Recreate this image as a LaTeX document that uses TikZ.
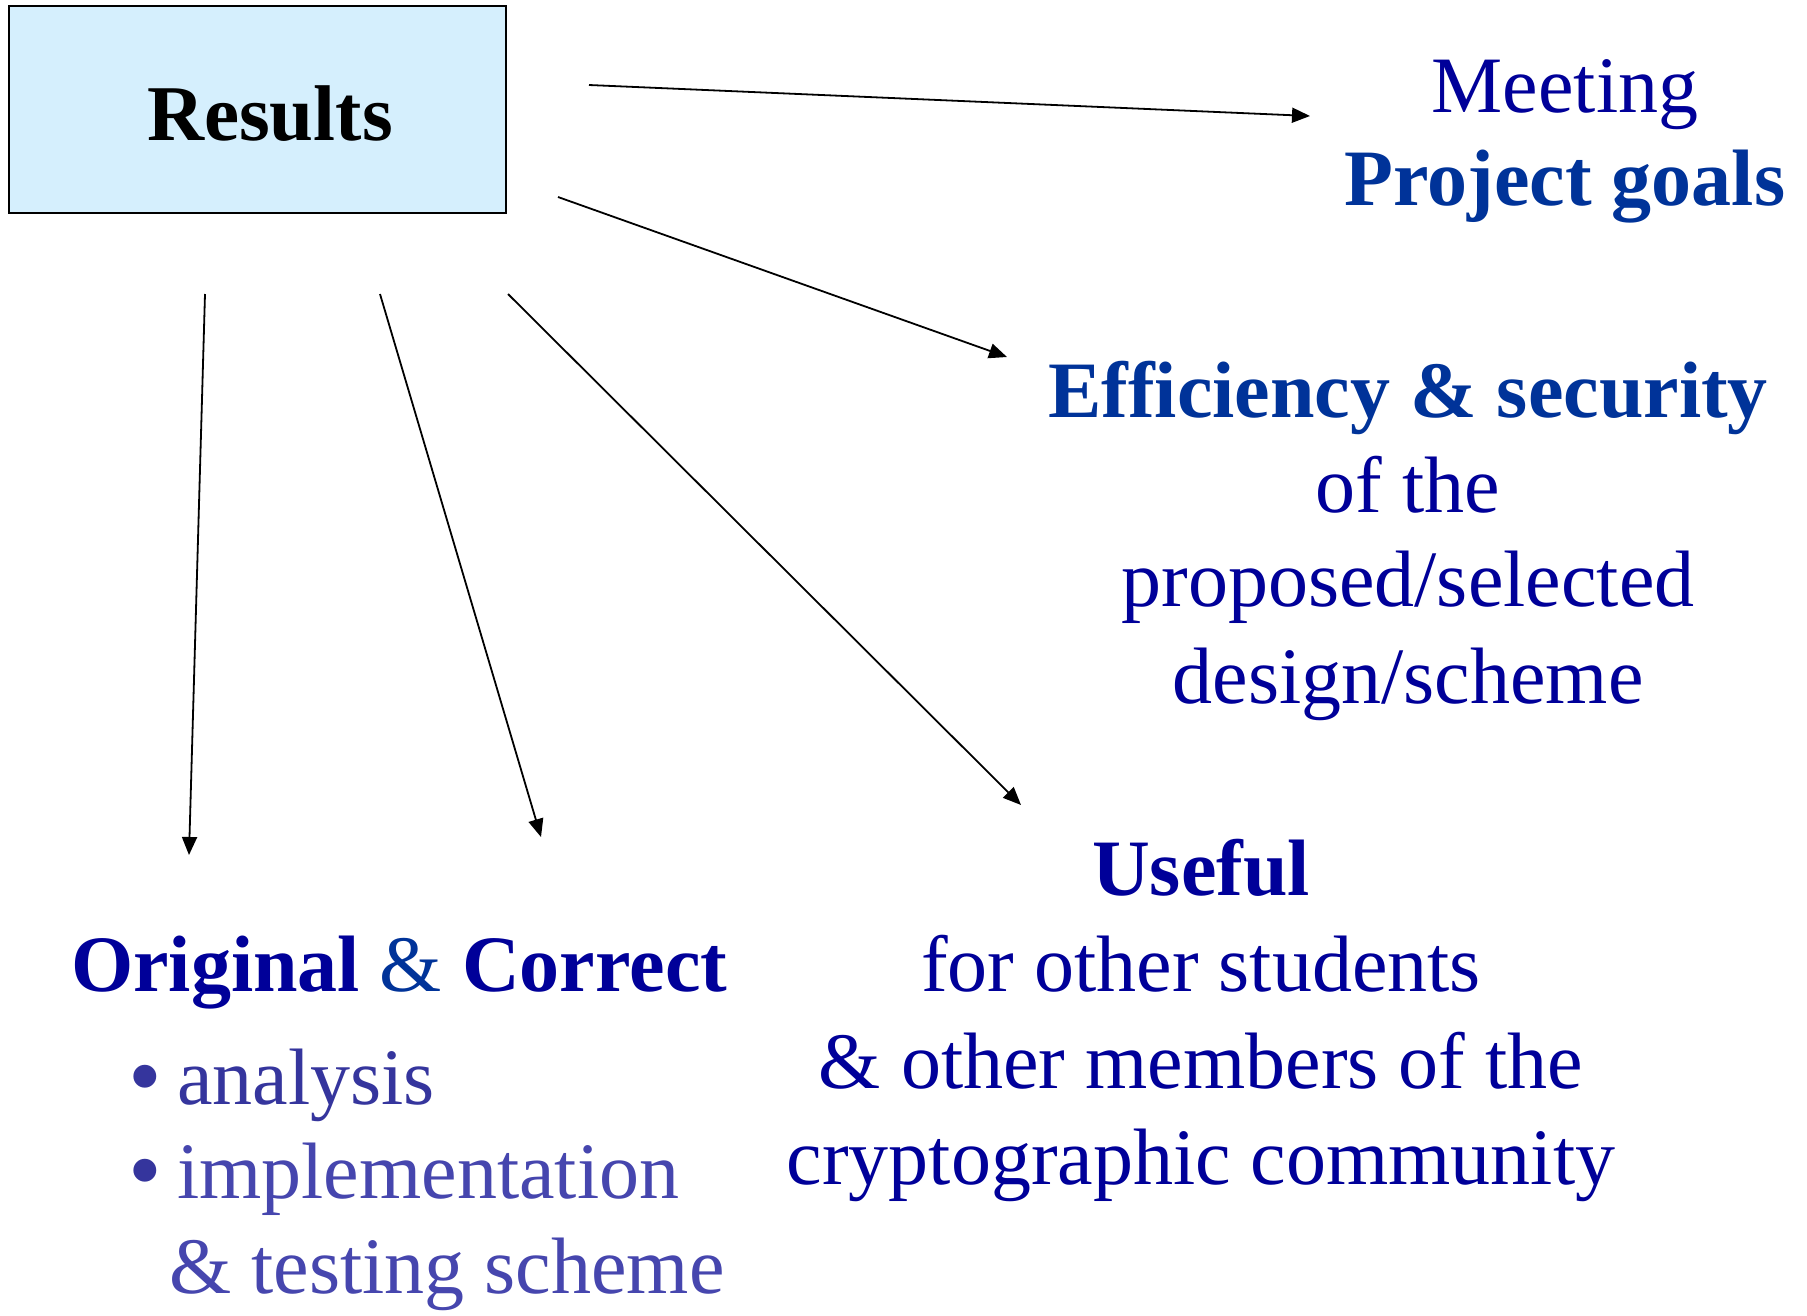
\documentclass[tikz,border=0pt]{standalone}
\usepackage{fontspec}
\setmainfont{Liberation Serif}
\usetikzlibrary{arrows.meta}
\definecolor{navy}{HTML}{000099}
\definecolor{royal}{HTML}{003399}
\definecolor{boxfill}{HTML}{D5EFFD}
\definecolor{anl}{HTML}{35359D}
\definecolor{impl}{HTML}{4646AE}
\begin{document}
\begin{tikzpicture}[x=1pt,y=-1pt,
  conn/.style={draw=black,line width=1.8pt,-{Triangle[length=18pt,width=15pt]}},
  big/.style={font=\fontsize{80}{95}\selectfont},
  lbl/.style={inner sep=0pt,outer sep=0pt}]
\useasboundingbox (0,0) rectangle (1807,1315);
\fill[white] (0,0) rectangle (1807,1315);
% Results box
\node[draw=black,line width=2.5pt,fill=boxfill,minimum width=497pt,minimum height=207pt,inner sep=0pt] (res) at (257.5,109.5) {};
\node[lbl,anchor=base,font=\fontsize{79}{95}\selectfont\bfseries] (restxt) at (270,140) {Results};
% Meeting
\node[lbl,anchor=base,big,text=navy] (meet) at (1565,112) {Meeting};
\node[lbl,anchor=base,big,text=royal,font=\fontsize{80}{95}\selectfont\bfseries] (goals) at (1565,205) {Project goals};
% Efficiency
\node[lbl,anchor=base,big,text=royal,font=\fontsize{80}{95}\selectfont\bfseries] (eff) at (1408,417) {Efficiency \& security};
\node[lbl,anchor=base,big,text=navy] (ofthe) at (1408,512) {of the};
\node[lbl,anchor=base,big,text=navy] (prop) at (1408,606) {proposed/selected};
\node[lbl,anchor=base,big,text=navy] (design) at (1408,703) {design/scheme};
% Useful
\node[lbl,anchor=base,big,text=navy,font=\fontsize{80}{95}\selectfont\bfseries] (useful) at (1201,895) {Useful};
\node[lbl,anchor=base,big,text=navy] (forother) at (1201,991) {for other students};
\node[lbl,anchor=base,big,text=navy] (members) at (1201,1088) {\& other members of the};
\node[lbl,anchor=base,big,text=navy] (crypto) at (1201,1184) {cryptographic community};
% Original & Correct
\node[lbl,anchor=base west,big,font=\fontsize{80}{95}\selectfont\bfseries] (orig) at (71,991) {\textcolor{navy}{Original} \textcolor{royal}{\mdseries\&} \textcolor{navy}{Correct}};
\node[lbl,anchor=base west,text=anl,font=\fontsize{96}{95}\selectfont] (b1) at (128,1108) {•};
\node[lbl,anchor=base west,big,text=anl] (analysis) at (177,1104) {analysis};
\node[lbl,anchor=base west,text=anl,font=\fontsize{96}{95}\selectfont] (b2) at (128,1202) {•};
\node[lbl,anchor=base west,big,text=impl] (implem) at (177,1198) {implementation};
\node[lbl,anchor=base west,big,text=impl] (testing) at (169,1293) {\& testing scheme};
% connector endpoints
\coordinate (s1) at (589,85);   \coordinate (e1) at (1310,116);
\coordinate (s2) at (558,197);  \coordinate (e2) at (1007,357);
\coordinate (s3) at (508,294);  \coordinate (e3) at (1021,805);
\coordinate (s4) at (380,294);  \coordinate (e4) at (541,837);
\coordinate (s5) at (205,294);  \coordinate (e5) at (189,855);
\draw[conn] (s1) -- (e1);
\draw[conn] (s2) -- (e2);
\draw[conn] (s3) -- (e3);
\draw[conn] (s4) -- (e4);
\draw[conn] (s5) -- (e5);
\end{tikzpicture}
\end{document}
